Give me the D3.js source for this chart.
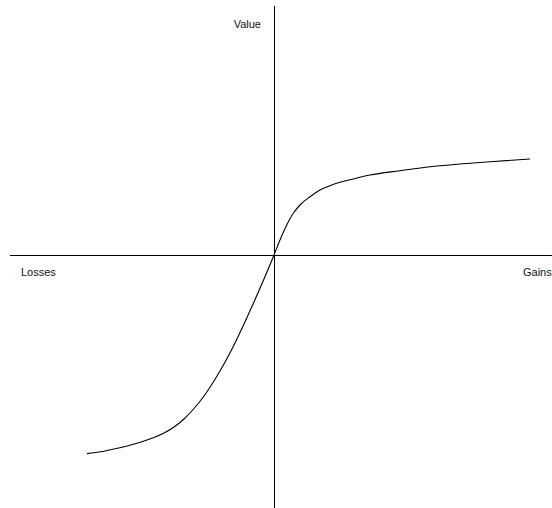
<!DOCTYPE html>
<html>
<head>
<meta charset="utf-8">
<script src="https://cdn.jsdelivr.net/npm/d3@7"></script>
<style>
  body { margin: 0; background: #fff; }
  svg { display: block; }
</style>
</head>
<body>
<div id="chart"></div>
<script>
// value function: outcome (losses < 0 < gains) against subjective value
const outcome = [-74.8, -72, -68, -64, -60, -56, -52, -48, -44, -40, -36, -32, -28, -24, -20, -16, -12, -8, -4, 0,
  2.4, 5.1, 7.7, 10.4, 14.4, 18.4, 22.4, 26.4, 30.4, 38.4, 50.4, 62.4, 74.4, 86.4, 102.4];
const value = [-99.3, -98.9, -98.1, -97, -95.9, -94.5, -93, -91.25, -89, -86, -82, -76.75, -70.5, -63, -54.5, -45, -34.5, -23.5, -12, 0,
  7.5, 15, 20.85, 25, 29.15, 32.5, 34.65, 36.35, 37.6, 40, 42.15, 44.15, 45.5, 46.65, 48];
const axisLabels = ["Value", "Losses", "Gains"];

const width = 552, height = 508;

const svg = d3
  .select("#chart")
  .append("svg")
  .attr("width", width)
  .attr("height", height);

const xScale = d3.scaleLinear().domain([-100, 100]).range([24, 524]);
const yScale = d3.scaleLinear().domain([-100, 100]).range([455, 55]);

const data = outcome.map((d, i) => ({ x: d, y: value[i] }));

// axes crossing at the origin
svg
  .append("line")
  .attr("x1", 10)
  .attr("x2", width)
  .attr("y1", yScale(0))
  .attr("y2", yScale(0))
  .attr("stroke", "#000")
  .attr("shape-rendering", "crispEdges");

svg
  .append("line")
  .attr("x1", xScale(0))
  .attr("x2", xScale(0))
  .attr("y1", 6)
  .attr("y2", height)
  .attr("stroke", "#000")
  .attr("shape-rendering", "crispEdges");

// curve
const line = d3
  .line()
  .x((d) => xScale(d.x))
  .y((d) => yScale(d.y))
  .curve(d3.curveMonotoneX);

svg
  .append("path")
  .datum(data)
  .attr("d", line)
  .attr("fill", "none")
  .attr("stroke", "#000")
  .attr("stroke-width", 1.1);

// labels
const font = "'Liberation Sans', Arial, sans-serif";

svg
  .append("text")
  .attr("x", xScale(0) - 13)
  .attr("y", 28)
  .attr("text-anchor", "end")
  .style("font-family", font)
  .style("font-size", "11px")
  .attr("fill", "#111")
  .text(axisLabels[0]);

svg
  .append("text")
  .attr("x", 21)
  .attr("y", yScale(0) + 21)
  .style("font-family", font)
  .style("font-size", "11px")
  .attr("fill", "#111")
  .text(axisLabels[1]);

svg
  .append("text")
  .attr("x", 523)
  .attr("y", yScale(0) + 21)
  .style("font-family", font)
  .style("font-size", "11px")
  .attr("fill", "#111")
  .text(axisLabels[2]);
</script>
</body>
</html>
